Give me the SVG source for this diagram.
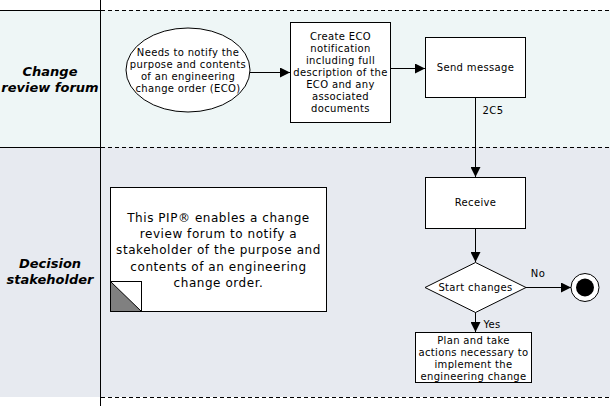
<svg xmlns="http://www.w3.org/2000/svg" width="610" height="406" viewBox="0 0 610 406">
<defs>
<style>
.t{font-family:"DejaVu Sans",Verdana,sans-serif;font-size:10px;letter-spacing:0.35px;fill:#000;text-anchor:middle;dominant-baseline:central}
.lane{font-family:"DejaVu Sans",Verdana,sans-serif;font-size:13px;font-weight:bold;font-style:italic;fill:#000;text-anchor:middle;dominant-baseline:central}
.note{font-family:"DejaVu Sans",Verdana,sans-serif;font-size:12px;letter-spacing:0.55px;fill:#000;text-anchor:middle;dominant-baseline:central}
.box{fill:#fff;stroke:#000;stroke-width:1}
.ln{stroke:#000;stroke-width:1;fill:none}
.dash{stroke:#000;stroke-width:1;stroke-dasharray:4 3;fill:none}
</style>
<marker id="ah" markerWidth="10" markerHeight="10" refX="10" refY="5" orient="auto" markerUnits="userSpaceOnUse">
<path d="M0,0 L10,5 L0,10 Z" fill="#000"/>
</marker>
</defs>
<rect width="610" height="406" fill="#fff"/>
<g id="lanes">
<rect x="0" y="10" width="610" height="137" fill="#eef6f6"/>
<rect x="0" y="147" width="610" height="250" fill="#e7eaf0"/>
<line class="ln" x1="100.5" y1="0" x2="100.5" y2="406"/>
<line class="ln" x1="0" y1="10.5" x2="100" y2="10.5"/>
<line class="dash" x1="101" y1="10.5" x2="610" y2="10.5"/>
<line class="ln" x1="0" y1="147.5" x2="100" y2="147.5"/>
<line class="dash" x1="101" y1="147.5" x2="610" y2="147.5"/>
<line class="dash" x1="101" y1="397.5" x2="610" y2="397.5"/>
<text class="lane" x="50" y="71">Change</text>
<text class="lane" x="50" y="87">review forum</text>
<text class="lane" x="50" y="263">Decision</text>
<text class="lane" x="50" y="279">stakeholder</text>
</g>
<g id="connectors">
<line class="ln" x1="250" y1="72.5" x2="290" y2="72.5" marker-end="url(#ah)"/>
<line class="ln" x1="391" y1="68.5" x2="425" y2="68.5" marker-end="url(#ah)"/>
<line class="ln" x1="475.5" y1="97" x2="475.5" y2="177" marker-end="url(#ah)"/>
<text class="t" x="493" y="110">2C5</text>
<line class="ln" x1="475.5" y1="228" x2="475.5" y2="262" marker-end="url(#ah)"/>
<line class="ln" x1="526" y1="287.5" x2="571" y2="287.5" marker-end="url(#ah)"/>
<text class="t" x="538" y="273">No</text>
<line class="ln" x1="475.5" y1="312" x2="475.5" y2="332" marker-end="url(#ah)"/>
<text class="t" x="492" y="324">Yes</text>
</g>
<g id="start">
<ellipse class="box" cx="188" cy="70" rx="62" ry="42"/>
<text class="t" x="188" y="52">Needs to notify the</text>
<text class="t" x="188" y="64">purpose and contents</text>
<text class="t" x="188" y="76">of an engineering</text>
<text class="t" x="188" y="88">change order (ECO)</text>
</g>
<g id="create">
<rect class="box" x="290.5" y="22.5" width="100" height="100"/>
<text class="t" x="340.5" y="36">Create ECO</text>
<text class="t" x="340.5" y="48">notification</text>
<text class="t" x="340.5" y="60.5">including full</text>
<text class="t" x="340.5" y="72.5">description of the</text>
<text class="t" x="340.5" y="84.5">ECO and any</text>
<text class="t" x="340.5" y="96.5">associated</text>
<text class="t" x="340.5" y="108.5">documents</text>
</g>
<g id="send">
<rect class="box" x="425.5" y="37.5" width="100" height="60"/>
<text class="t" x="475.5" y="67.5">Send message</text>
</g>
<g id="receive">
<rect class="box" x="425.5" y="177.5" width="100" height="51"/>
<text class="t" x="475.5" y="202.5">Receive</text>
</g>
<g id="decision">
<polygon class="box" points="475.5,262.5 526,287.5 475.5,312.5 425,287.5"/>
<text class="t" x="475.5" y="287.5">Start changes</text>
</g>
<g id="end">
<circle class="box" cx="585" cy="287.5" r="14"/>
<circle cx="585" cy="287.5" r="9" fill="#000"/>
</g>
<g id="plan">
<rect class="box" x="415.5" y="332.5" width="116" height="50"/>
<text class="t" x="473.5" y="340">Plan and take</text>
<text class="t" x="473.5" y="352">actions necessary to</text>
<text class="t" x="473.5" y="364">implement the</text>
<text class="t" x="473.5" y="376">engineering change</text>
</g>
<g id="note">
<rect class="box" x="110.5" y="187.5" width="216" height="124"/>
<rect class="box" x="110.5" y="281.5" width="31" height="30"/>
<polygon points="110.5,281.5 141.5,311.5 110.5,311.5" fill="#808080" stroke="#000" stroke-width="1"/>
<text class="note" x="218.5" y="218">This PIP® enables a change</text>
<text class="note" x="218.5" y="234">review forum to notify a</text>
<text class="note" x="218.5" y="250">stakeholder of the purpose and</text>
<text class="note" x="218.5" y="266.5">contents of an engineering</text>
<text class="note" x="218.5" y="282.5">change order.</text>
</g>
</svg>
